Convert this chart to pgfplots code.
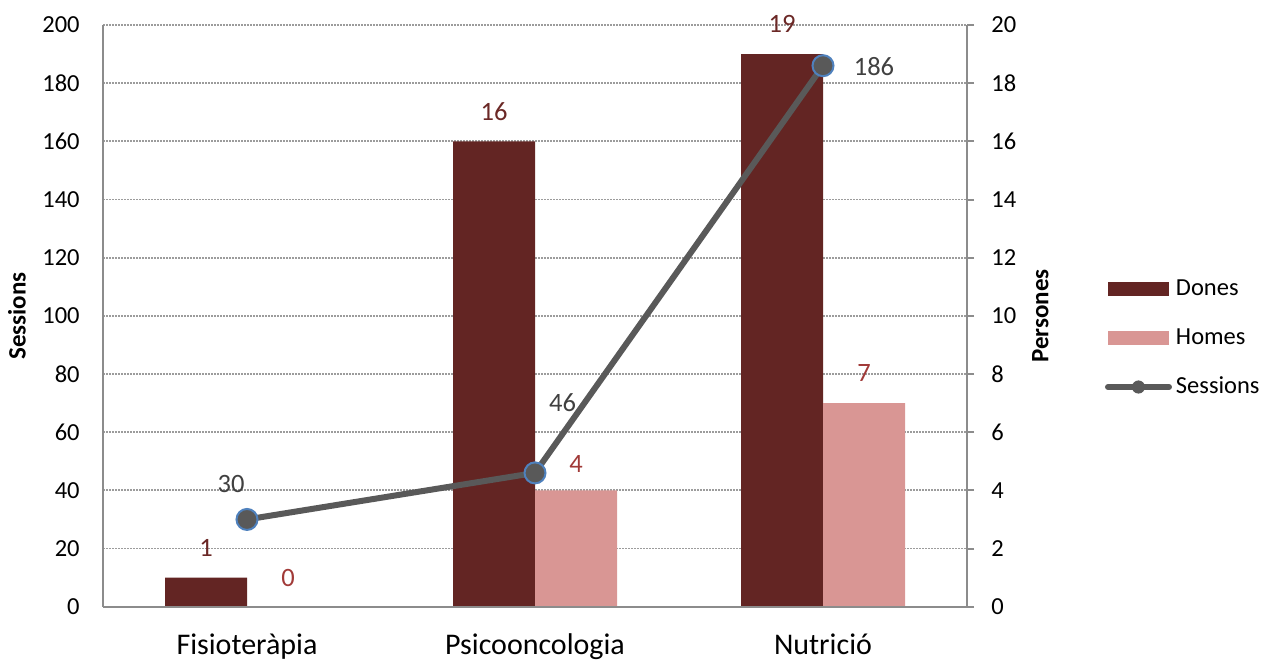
\documentclass[border=0pt]{standalone}
\usepackage{fontspec}
\setmainfont{Carlito}
\usepackage{pgfplots}
\usepackage{pgfplotstable}
\pgfplotsset{compat=1.18}

\definecolor{dones}{HTML}{632523}
\definecolor{homes}{HTML}{D99694}
\definecolor{doneslab}{HTML}{6B2826}
\definecolor{homeslab}{HTML}{A13A38}
\definecolor{linegray}{HTML}{595959}
\definecolor{markblue}{HTML}{4F81BD}
\definecolor{linelab}{HTML}{404040}
\definecolor{axisgray}{HTML}{8C8C8C}
\definecolor{gridgray}{HTML}{9C9C9C}

% persones (right axis)
\pgfplotstableread{
x y dy
0 1 15
1 16 15
2 19 15
}\donestab
\pgfplotstableread{
x y dy
0 0 14.5
1 4 13
2 7 15
}\homestab
% sessions (left axis), label offsets in pt
\pgfplotstableread{
x y dx dy
0 30 -8 17.5
1 46 13.75 35.2
2 186 25.5 -0.65
}\sesstab

\begin{document}
\begin{tikzpicture}
\useasboundingbox (-51.5pt,-27.65pt) rectangle (579pt,303.35pt);
\pgfplotsset{
  /pgf/number format/assume math mode=true,
  every axis/.append style={scale only axis, width=432pt, height=290.85pt,
    at={(0pt,0pt)}, anchor=south west, xmin=-0.5, xmax=2.5, clip=false},
  barleg/.style={legend image code/.code={\fill[##1] (0pt,-3.5pt) rectangle (30.5pt,3.5pt);}},
  sessleg/.style={legend image code/.code={
    \draw[##1, mark=none, line cap=round] (0pt,0pt) -- (30.5pt,0pt);
    \draw[##1, mark size=2.9pt, mark options={line width=0.75pt}, only marks]
      plot coordinates {(15.25pt,0pt)};}},
}

% bars on the Persones axis
\begin{axis}[
  ymin=0, ymax=20, ytick={0,2,...,20},
  axis x line=none,
  axis y line*=right,
  y axis line style={axisgray, line width=1pt},
  ytick style={axisgray, line width=1pt},
  tick align=outside, major tick length=3.5pt,
  ymajorgrids,
  grid style={gridgray, line width=0.9pt, dash pattern=on 0.8pt off 0.7pt},
  yticklabel style={font=\fontsize{12.25}{14}\selectfont, inner sep=0pt, anchor=west, xshift=8.5pt},
  ylabel={Persones},
  ylabel style={font=\bfseries\fontsize{12.5}{14}\selectfont,
    at={(axis description cs:1.085,0.5)}, anchor=center},
]
\addplot[ybar, bar width=41pt, bar shift=-20.5pt, fill=dones, draw=none,
  visualization depends on={\thisrow{dy}\as\dy},
  nodes near coords,
  every node near coord/.append style={anchor=center, xshift=-20.5pt, yshift=\dy, text=doneslab,
    font=\fontsize{13.25}{15}\selectfont}]
  table[x=x, y=y] {\donestab};
\addplot[ybar, bar width=41pt, bar shift=20.5pt, fill=homes, draw=none,
  visualization depends on={\thisrow{dy}\as\dy},
  nodes near coords,
  every node near coord/.append style={anchor=center, xshift=20.5pt, yshift=\dy, text=homeslab,
    font=\fontsize{13.25}{15}\selectfont}]
  table[x=x, y=y] {\homestab};
\end{axis}

% sessions line on the left axis
\begin{axis}[
  ymin=0, ymax=200, ytick={0,20,...,200},
  axis x line*=bottom,
  axis y line*=left,
  axis line style={axisgray, line width=1pt},
  xtick={0,1,2},
  xticklabels={Fisioteràpia,Psicooncologia,Nutrició},
  tick style={draw=none},
  yticklabel style={font=\fontsize{12.25}{14}\selectfont, inner sep=0pt, anchor=east, xshift=-11.5pt},
  xticklabel style={font=\fontsize{15}{17}\selectfont, inner sep=0pt, anchor=base, yshift=-24.15pt},
  ylabel={Sessions},
  ylabel style={font=\bfseries\fontsize{12.5}{14}\selectfont,
    at={(axis description cs:-0.0995,0.5)}, anchor=center},
  legend entries={Dones,Homes,Sessions},
  legend cell align=left,
  legend style={at={(axis description cs:1.1597,0.4619)}, anchor=west,
    draw=none, fill=none, inner sep=0pt, outer sep=0pt, column sep=2pt,
    font=\fontsize{12.25}{14}\selectfont,
    nodes={inner sep=0pt, minimum height=24.5pt, anchor=west}},
]
\addlegendimage{barleg, fill=dones, draw=none}
\addlegendimage{barleg, fill=homes, draw=none}
\addplot[linegray, line width=3pt, mark=*, mark size=5.25pt,
  mark options={fill=linegray, draw=markblue, line width=1pt},
  sessleg,
  visualization depends on={\thisrow{dx}\as\dx},
  visualization depends on={\thisrow{dy}\as\dy},
  nodes near coords,
  every node near coord/.append style={anchor=center, xshift=\dx, yshift=\dy,
    text=linelab, font=\fontsize{13.25}{15}\selectfont}]
  table[x=x, y=y] {\sesstab};
\end{axis}
\end{tikzpicture}
\end{document}
